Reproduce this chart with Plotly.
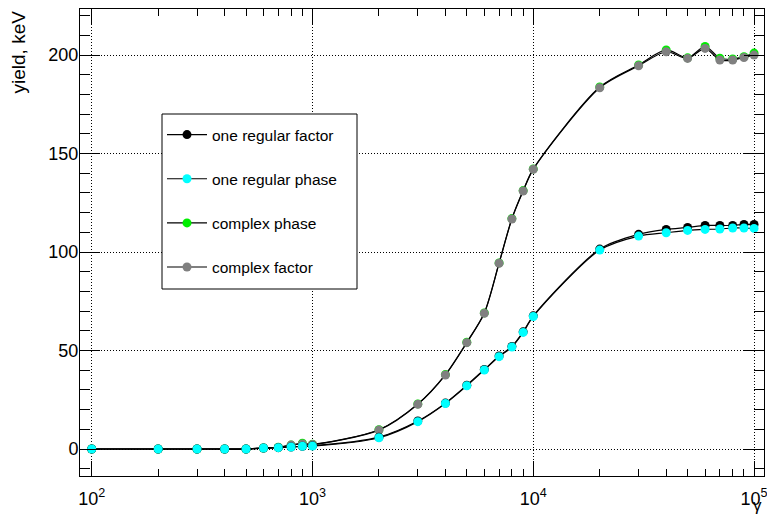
import plotly.graph_objects as go

gamma = [100, 200, 300, 400, 500, 600, 700, 800, 900, 1000,
         2000, 3000, 4000, 5000, 6000, 7000, 8000, 9000, 10000,
         20000, 30000, 40000, 50000, 60000, 70000, 80000, 90000, 100000]

one_regular_factor = [0, 0, 0, 0, 0, 0.5, 0.7, 1.0, 1.4, 1.6,
                      6.0, 14.2, 23.3, 32.4, 40.4, 47.2, 52.1, 59.5, 67.6,
                      101.5, 109.0, 111.5, 112.5, 113.5, 113.5, 113.5, 114.0, 114.0]
one_regular_phase = [0, 0, 0, 0, 0, 0.5, 0.7, 1.0, 1.4, 1.5,
                     5.7, 13.9, 23.1, 32.1, 40.1, 46.9, 51.8, 59.2, 67.3,
                     101.0, 108.1, 109.8, 111.0, 111.5, 111.7, 112.2, 112.2, 112.0]
complex_phase = [0, 0, 0, 0, 0, 0.5, 0.9, 2.0, 2.9, 2.4,
                 9.8, 22.9, 37.8, 54.2, 69.1, 94.5, 117.0, 131.2, 142.2,
                 183.8, 195.0, 202.6, 198.6, 204.4, 198.4, 198.0, 199.2, 201.0]
complex_factor = [0, 0, 0, 0, 0, 0.5, 0.8, 2.0, 2.6, 2.3,
                  9.6, 22.7, 37.6, 54.0, 68.9, 94.3, 116.8, 131.0, 142.0,
                  183.4, 194.6, 201.7, 198.3, 203.4, 197.5, 197.5, 198.8, 200.0]

x_tick_vals = [100, 1000, 10000, 100000]
x_tick_text = ["10<sup>2</sup>", "10<sup>3</sup>", "10<sup>4</sup>", "10<sup>5</sup>"]
x_minor_vals = [m * d for d in (100, 1000, 10000) for m in range(2, 10)]

FONT = "Liberation Sans, Arial, Helvetica, sans-serif"

series = [
    ("complex phase", complex_phase, "#00ee00", 3),
    ("complex factor", complex_factor, "#808080", 4),
    ("one regular factor", one_regular_factor, "#000000", 1),
    ("one regular phase", one_regular_phase, "#00ffff", 2),
]

fig = go.Figure()
for name, vals, col, rank in series:
    fig.add_trace(go.Scatter(
        x=gamma, y=vals, name=name, mode="lines+markers",
        line=dict(color="black", width=1.2, shape="spline", smoothing=0.8),
        marker=dict(color=col, size=9, symbol="circle", line=dict(width=0)),
        legendrank=rank, legendgroup=name,
    ))

# plot area: x 80..764, y 9..476 (pixels)
PW, PH = 684.0, 467.0
def px_x(p):
    return (p - 80) / PW
def px_y(p):
    return (476 - p) / PH

fig.update_layout(
    width=767, height=515,
    margin=dict(l=80, r=3, t=9, b=39, autoexpand=False),
    paper_bgcolor="white", plot_bgcolor="white",
    font=dict(family=FONT, color="black", size=18),
    showlegend=True,
    legend=dict(
        x=px_x(162), y=px_y(118), xanchor="left", yanchor="top",
        bgcolor="rgba(0,0,0,0)", borderwidth=0,
        font=dict(size=15.5, family=FONT), tracegroupgap=21,
        itemwidth=40,
    ),
    shapes=[
        dict(type="rect", xref="paper", yref="paper",
             x0=px_x(162), x1=px_x(357), y0=px_y(289), y1=px_y(114),
             line=dict(color="black", width=1), fillcolor="white",
             layer="above"),
    ],
    xaxis=dict(
        type="log", range=[1.947, 5.045], automargin=False,
        tickmode="array", tickvals=x_tick_vals, ticktext=x_tick_text,
        ticks="inside", ticklen=15, tickcolor="black", tickwidth=1,
        showline=True, linecolor="black", linewidth=1, mirror="ticks",
        showgrid=True, gridcolor="black", griddash="1px,2px", gridwidth=1,
        minor=dict(tickvals=x_minor_vals, ticks="inside", ticklen=7,
                   tickcolor="black", showgrid=False),
        tickfont=dict(size=18), ticklabelstandoff=6,
        ticklabeloverflow="allow",
        zeroline=False,
    ),
    yaxis=dict(
        range=[-13.7, 223.4], automargin=False,
        tickmode="linear", tick0=0, dtick=50,
        ticks="inside", ticklen=20, tickcolor="black", tickwidth=1,
        showline=True, linecolor="black", linewidth=1, mirror="ticks",
        showgrid=True, gridcolor="black", griddash="1px,2px", gridwidth=1,
        minor=dict(dtick=10, ticks="inside", ticklen=10,
                   tickcolor="black", showgrid=False),
        tickfont=dict(size=18), zeroline=False, ticklabelstandoff=-3,
    ),
    annotations=[
        dict(text="yield, keV", xref="paper", yref="paper",
             x=px_x(18), y=1.0, xanchor="center", yanchor="top",
             textangle=-90, showarrow=False, font=dict(size=19)),
        dict(text="γ", xref="paper", yref="paper",
             x=px_x(764), y=px_y(505), xanchor="right", yanchor="middle",
             showarrow=False, font=dict(size=17)),
    ],
)

fig.write_html("out.html", config={"displayModeBar": False},
               post_script="document.body.style.margin='0';")
